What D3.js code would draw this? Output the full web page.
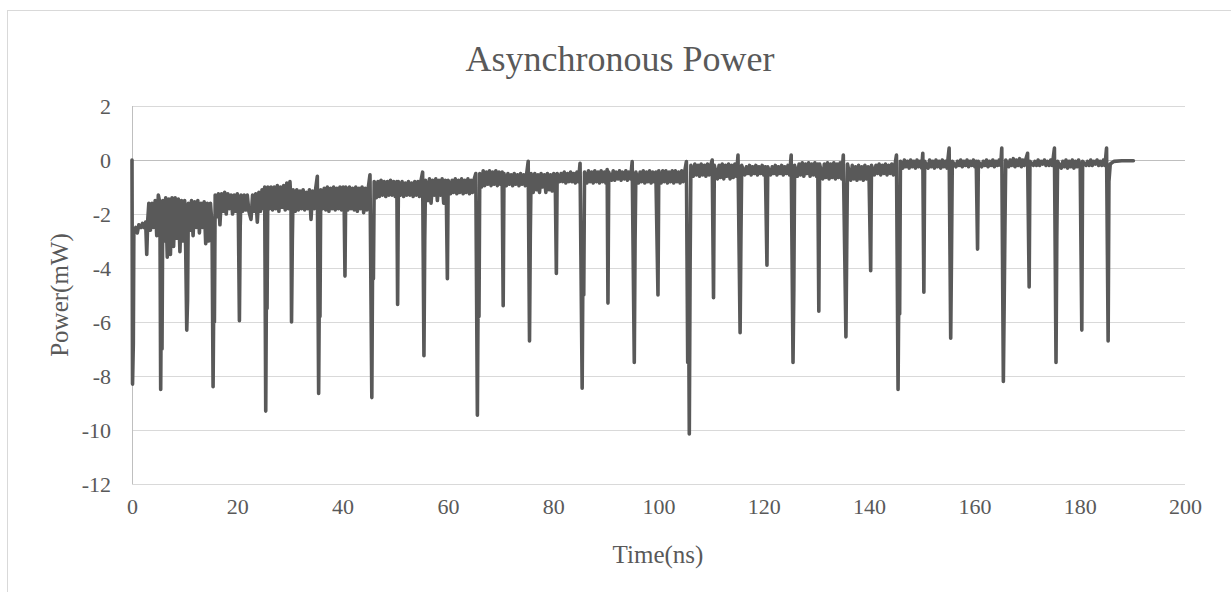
<!DOCTYPE html>
<html>
<head>
<meta charset="utf-8">
<script src="https://cdnjs.cloudflare.com/ajax/libs/d3/7.8.5/d3.min.js"></script>
<style>
  body { margin: 0; background: #fff; }
  text { font-family: "Liberation Serif", "Times New Roman", serif; fill: #595959; }
</style>
</head>
<body>
<div id="Chart"></div>
<script>
var w = 1231;
var h = 592;

var title = "Asynchronous Power";
var xLabel = "Time(ns)";
var yLabel = "Power(mW)";
var xTicks = [0, 20, 40, 60, 80, 100, 120, 140, 160, 180, 200];
var yTicks = [2, 0, -2, -4, -6, -8, -10, -12];

// [time ns, power mW]
var seg0to50 = [
  [0,0],[0.1,-8.3],[0.25,-6.8],[0.35,-2.6],[0.7,-2.5],[1.0,-2.7],[1.3,-2.4],[1.7,-2.5],[2.0,-2.35],[2.3,-2.5],[2.6,-2.3],[2.8,-3.5],[3.0,-2.2],[3.2,-1.6],[3.5,-2.6],[3.8,-1.6],[4.1,-2.5],[4.4,-1.5],[4.7,-2.8],[5.0,-1.3],[5.3,-1.6],
  [5.45,-8.5],[5.6,-3.8],[5.7,-7.0],[5.85,-1.5],
  [6.1,-3.0],[6.4,-1.4],[6.7,-3.6],[7.0,-1.45],[7.3,-3.5],[7.6,-1.4],[7.9,-3.2],[8.2,-1.4],[8.5,-2.9],[8.8,-1.45],[9.1,-3.4],[9.4,-1.5],[9.7,-3.0],[10.0,-1.5],[10.2,-3.3],
  [10.4,-6.3],[10.55,-5.2],[10.7,-1.6],
  [11.0,-2.6],[11.3,-1.5],[11.6,-2.8],[11.9,-1.55],[12.2,-2.5],[12.5,-1.5],[12.8,-2.7],[13.1,-1.6],[13.4,-2.5],[13.7,-1.55],[14.0,-3.1],[14.3,-1.6],[14.6,-3.0],[14.9,-1.6],[15.2,-2.4],
  [15.4,-8.4],[15.55,-4.5],[15.65,-6.0],[15.8,-1.3],
  [16.1,-2.1],[16.4,-1.25],[16.7,-2.4],[17.0,-1.25],[17.3,-1.9],[17.6,-1.2],[17.9,-2.0],[18.2,-1.25],[18.5,-1.8],[18.8,-1.3],[19.1,-2.0],[19.4,-1.3],[19.7,-1.9],[20.0,-1.25],[20.2,-2.0],
  [20.4,-5.95],[20.55,-2.5],[20.7,-1.3],
  [21.0,-1.9],[21.3,-1.3],[21.6,-1.85],[21.9,-1.3],[22.2,-1.9],[22.6,-2.2],[22.9,-1.3],[23.2,-1.9],[23.5,-1.25],[23.8,-2.3],[24.1,-1.2],[24.4,-1.9],[24.7,-1.1],[25.0,-1.8],[25.2,-1.0],
  [25.4,-9.3],[25.55,-4.0],[25.65,-5.5],[25.8,-1.0],
  [26.1,-1.8],[26.4,-1.0],[26.7,-1.85],[27.0,-1.0],[27.3,-1.8],[27.6,-0.95],[27.9,-1.9],[28.2,-1.0],[28.5,-1.75],[28.8,-0.95],[29.1,-1.85],[29.4,-0.85],[29.7,-1.8],[30.0,-0.8],[30.2,-1.6],
  [30.3,-6.0],[30.45,-3.0],[30.6,-1.1],
  [31.0,-1.9],[31.3,-1.1],[31.6,-1.85],[31.9,-1.15],[32.2,-1.8],[32.5,-1.1],[32.8,-1.85],[33.1,-1.2],[33.4,-1.8],[33.7,-1.1],[34.0,-2.2],[34.3,-1.15],[34.6,-1.8],[34.9,-1.05],[35.2,-0.6],
  [35.45,-8.65],[35.6,-4.2],[35.7,-5.8],[35.85,-1.1],
  [36.2,-1.8],[36.5,-1.05],[36.8,-1.85],[37.1,-1.0],[37.4,-1.9],[37.7,-1.05],[38.0,-1.8],[38.3,-1.0],[38.6,-1.85],[38.9,-1.05],[39.2,-1.8],[39.5,-1.0],[39.8,-1.85],[40.1,-1.0],[40.3,-1.7],
  [40.45,-4.3],[40.6,-1.0],
  [41.0,-1.85],[41.3,-1.0],[41.6,-1.8],[41.9,-1.05],[42.2,-1.85],[42.5,-1.0],[42.8,-1.9],[43.1,-1.05],[43.4,-1.8],[43.7,-1.0],[44.0,-1.95],[44.3,-1.05],[44.6,-1.85],[44.9,-1.0],[45.2,-0.55],
  [45.55,-8.8],[45.7,-3.5],[45.85,-4.4],[46.0,-0.8],
  [46.4,-1.4],[46.7,-0.8],[47.0,-1.35],[47.3,-0.75],[47.6,-1.3],[47.9,-0.8],[48.2,-1.35],[48.5,-0.8],[48.8,-1.3],[49.1,-0.75],[49.4,-1.3],[49.7,-0.8],[50.0,-1.35],[50.3,-0.8],
  [50.45,-5.35],[50.6,-0.8]
];

var seg50to100 = [
  [51.0,-1.3],[51.3,-0.8],[51.6,-1.35],[51.9,-0.85],[52.2,-1.3],[52.5,-0.8],[52.8,-1.3],[53.1,-0.85],[53.4,-1.35],[53.7,-0.8],[54.0,-1.3],[54.3,-0.8],[54.6,-1.35],[54.9,-0.75],[55.2,-0.45],
  [55.45,-7.25],[55.6,-3.0],[55.75,-0.75],
  [56.2,-1.5],[56.5,-0.7],[56.8,-1.6],[57.1,-0.75],[57.4,-1.3],[57.7,-0.7],[58.0,-1.5],[58.3,-0.75],[58.6,-1.3],[58.9,-0.7],[59.2,-1.6],[59.5,-0.75],[59.7,-1.3],
  [59.9,-4.4],[60.05,-0.75],
  [60.5,-1.25],[60.8,-0.75],[61.1,-1.2],[61.4,-0.7],[61.7,-1.25],[62.0,-0.75],[62.3,-1.2],[62.6,-0.7],[62.9,-1.25],[63.2,-0.75],[63.5,-1.2],[63.8,-0.7],[64.1,-1.25],[64.4,-0.75],[64.7,-1.2],[65.0,-0.7],[65.3,-0.5],
  [65.6,-9.45],[65.75,-4.5],[65.9,-5.8],[66.05,-0.5],
  [66.4,-1.0],[66.7,-0.4],[67.0,-0.95],[67.3,-0.45],[67.6,-0.9],[67.9,-0.4],[68.2,-0.95],[68.5,-0.45],[68.8,-0.9],[69.1,-0.4],[69.4,-0.95],[69.7,-0.45],[70.0,-0.9],[70.3,-0.45],
  [70.5,-5.4],[70.65,-0.5],
  [71.1,-0.95],[71.4,-0.5],[71.7,-0.9],[72.0,-0.55],[72.3,-0.95],[72.6,-0.5],[72.9,-0.9],[73.2,-0.55],[73.5,-0.95],[73.8,-0.5],[74.1,-0.9],[74.4,-0.55],[74.7,-0.95],[75.0,-0.45],[75.25,-0.05],
  [75.5,-6.7],[75.65,-2.8],[75.8,-0.5],
  [76.2,-1.2],[76.5,-0.5],[76.8,-1.1],[77.1,-0.55],[77.4,-1.2],[77.7,-0.5],[78.0,-1.0],[78.3,-0.55],[78.6,-1.2],[78.9,-0.5],[79.2,-1.1],[79.5,-0.55],[79.8,-1.15],[80.1,-0.5],[80.4,-0.9],
  [80.6,-4.2],[80.75,-0.5],
  [81.2,-0.8],[81.5,-0.5],[81.8,-0.8],[82.1,-0.45],[82.4,-0.85],[82.7,-0.5],[83.0,-0.8],[83.3,-0.45],[83.6,-0.8],[83.9,-0.5],[84.2,-0.85],[84.5,-0.45],[84.8,-0.8],[85.1,-0.12],
  [85.5,-8.45],[85.65,-3.8],[85.8,-5.0],[85.95,-0.45],
  [86.4,-0.85],[86.7,-0.4],[87.0,-0.8],[87.3,-0.45],[87.6,-0.85],[87.9,-0.4],[88.2,-0.8],[88.5,-0.45],[88.8,-0.85],[89.1,-0.4],[89.4,-0.8],[89.7,-0.45],[90.0,-0.85],[90.25,-0.35],
  [90.4,-5.3],[90.55,-0.45],
  [91.1,-0.75],[91.4,-0.4],[91.7,-0.75],[92.0,-0.45],[92.3,-0.7],[92.6,-0.4],[92.9,-0.75],[93.2,-0.45],[93.5,-0.7],[93.8,-0.4],[94.1,-0.75],[94.4,-0.45],[94.7,-0.7],[95.0,-0.06],
  [95.4,-7.5],[95.55,-3.0],[95.7,-0.45],
  [96.2,-0.85],[96.5,-0.45],[96.8,-0.8],[97.1,-0.4],[97.4,-0.85],[97.7,-0.45],[98.0,-0.8],[98.3,-0.4],[98.6,-0.85],[98.9,-0.45],[99.2,-0.8],[99.5,-0.45],
  [99.9,-5.0],[100.05,-0.4]
];

var seg100to150 = [
  [100.5,-0.85],[100.8,-0.4],[101.1,-0.8],[101.4,-0.4],[101.7,-0.85],[102.0,-0.45],[102.3,-0.8],[102.6,-0.4],[102.9,-0.85],[103.2,-0.4],[103.5,-0.8],[103.8,-0.45],[104.1,-0.85],[104.4,-0.4],[104.7,-0.8],[105.0,-0.4],[105.3,-0.06],
  [105.55,-7.5],[105.7,-4.5],[105.85,-10.15],[106.0,-4.0],[106.15,-0.2],
  [106.6,-0.6],[106.9,-0.15],[107.2,-0.55],[107.5,-0.2],[107.8,-0.6],[108.1,-0.15],[108.4,-0.55],[108.7,-0.2],[109.0,-0.6],[109.3,-0.15],[109.6,-0.55],[109.9,-0.2],[110.2,0.0],
  [110.45,-5.1],[110.6,-0.2],
  [111.2,-0.7],[111.5,-0.2],[111.8,-0.65],[112.1,-0.15],[112.4,-0.7],[112.7,-0.2],[113.0,-0.6],[113.3,-0.15],[113.6,-0.7],[113.9,-0.2],[114.2,-0.65],[114.5,-0.15],[114.8,-0.6],[115.1,0.18],
  [115.5,-6.4],[115.65,-3.0],[115.8,-0.2],
  [116.4,-0.55],[116.7,-0.25],[117.0,-0.5],[117.3,-0.2],[117.6,-0.55],[117.9,-0.25],[118.2,-0.5],[118.5,-0.2],[118.8,-0.55],[119.1,-0.25],[119.4,-0.5],[119.7,-0.2],[120.0,-0.55],[120.3,-0.25],
  [120.6,-3.9],[120.75,-0.25],
  [121.3,-0.55],[121.6,-0.25],[121.9,-0.5],[122.2,-0.2],[122.5,-0.55],[122.8,-0.25],[123.1,-0.5],[123.4,-0.2],[123.7,-0.55],[124.0,-0.25],[124.3,-0.5],[124.6,-0.2],[124.9,-0.55],[125.2,0.18],
  [125.55,-7.5],[125.7,-4.8],[125.85,-0.2],
  [126.4,-0.6],[126.7,-0.15],[127.0,-0.55],[127.3,-0.1],[127.6,-0.6],[127.9,-0.15],[128.2,-0.5],[128.5,-0.1],[128.8,-0.6],[129.1,-0.15],[129.4,-0.55],[129.7,-0.1],[130.0,-0.6],[130.25,-0.15],
  [130.45,-5.6],[130.6,-0.15],
  [131.2,-0.7],[131.5,-0.15],[131.8,-0.65],[132.1,-0.1],[132.4,-0.7],[132.7,-0.15],[133.0,-0.65],[133.3,-0.1],[133.6,-0.7],[133.9,-0.15],[134.2,-0.65],[134.5,-0.1],[134.8,-0.7],[135.1,0.18],
  [135.6,-6.55],[135.75,-3.2],[135.9,-0.15],
  [136.5,-0.75],[136.8,-0.2],[137.1,-0.7],[137.4,-0.25],[137.7,-0.75],[138.0,-0.2],[138.3,-0.7],[138.6,-0.25],[138.9,-0.75],[139.2,-0.2],[139.5,-0.7],[139.8,-0.25],[140.0,-0.7],
  [140.3,-4.1],[140.45,-0.2],
  [141.0,-0.55],[141.3,-0.2],[141.6,-0.5],[141.9,-0.15],[142.2,-0.55],[142.5,-0.2],[142.8,-0.5],[143.1,-0.15],[143.4,-0.55],[143.7,-0.2],[144.0,-0.5],[144.3,-0.15],[144.6,-0.55],[144.9,-0.2],[145.2,0.18],
  [145.5,-8.5],[145.65,-4.5],[145.8,-5.7],[145.95,-0.05],
  [146.4,-0.3],[146.7,0.0],[147.0,-0.25],[147.3,-0.05],[147.6,-0.3],[147.9,0.0],[148.2,-0.25],[148.5,-0.05],[148.8,-0.3],[149.1,0.0],[149.4,-0.25],[149.7,-0.05],[150.0,-0.3],[150.2,0.25]
];

var seg150to190 = [
  [150.4,-4.9],[150.55,-0.05],
  [151.2,-0.3],[151.5,0.0],[151.8,-0.25],[152.1,-0.05],[152.4,-0.3],[152.7,0.0],[153.0,-0.25],[153.3,-0.05],[153.6,-0.3],[153.9,0.0],[154.2,-0.25],[154.5,-0.05],[154.8,-0.3],[155.2,0.44],
  [155.5,-6.6],[155.65,-3.5],[155.8,-0.05],
  [156.5,-0.25],[156.8,-0.05],[157.1,-0.2],[157.4,0.0],[157.7,-0.25],[158.0,-0.05],[158.3,-0.2],[158.6,0.0],[158.9,-0.25],[159.2,-0.05],[159.5,-0.2],[159.8,0.0],[160.1,-0.25],[160.35,-0.05],
  [160.6,-3.3],[160.75,-0.05],
  [161.4,-0.25],[161.7,-0.05],[162.0,-0.2],[162.3,0.0],[162.6,-0.25],[162.9,-0.05],[163.2,-0.2],[163.5,0.0],[163.8,-0.25],[164.1,-0.05],[164.4,-0.2],[164.7,0.0],[165.0,-0.2],[165.2,0.44],
  [165.5,-8.2],[165.65,-5.4],[165.8,-2.5],[165.95,0.0],
  [166.5,-0.25],[166.8,0.0],[167.1,-0.2],[167.4,0.05],[167.7,-0.25],[168.0,0.0],[168.3,-0.2],[168.6,0.05],[168.9,-0.25],[169.2,0.0],[169.5,-0.2],[169.8,0.05],[170.1,0.25],
  [170.4,-4.7],[170.55,-0.05],
  [171.2,-0.2],[171.5,-0.05],[171.8,-0.2],[172.1,0.0],[172.4,-0.2],[172.7,-0.05],[173.0,-0.15],[173.3,0.0],[173.6,-0.2],[173.9,-0.05],[174.2,-0.2],[174.5,0.0],[174.8,-0.2],[175.2,0.44],
  [175.5,-7.5],[175.65,-2.85],[175.8,-0.05],
  [176.5,-0.3],[176.8,-0.05],[177.1,-0.25],[177.4,0.0],[177.7,-0.3],[178.0,-0.05],[178.3,-0.25],[178.6,0.0],[178.9,-0.3],[179.2,-0.05],[179.5,-0.25],[179.8,0.0],[180.1,-0.3],
  [180.4,-6.3],[180.55,-0.05],
  [181.2,-0.2],[181.5,-0.05],[181.8,-0.2],[182.1,0.0],[182.4,-0.2],[182.7,-0.05],[183.0,-0.15],[183.3,0.0],[183.6,-0.2],[183.9,-0.05],[184.2,-0.2],[184.5,0.0],[184.8,-0.2],[185.1,0.44],
  [185.4,-6.7],[185.55,-0.8],[185.8,-0.15],[186.5,-0.05],[188.0,-0.03],[190.2,-0.03]
];

var power = seg0to50.concat(seg50to100, seg100to150, seg150to190);

var plot = { left: 132, right: 1185, top: 106, bottom: 484 };

var svg = d3.select("#Chart").append("svg")
    .attr("width", w)
    .attr("height", h)

svg.append("rect")
    .attr("x", 7.5).attr("y", 10.5)
    .attr("width", w).attr("height", h)
    .attr("fill", "#fff")
    .attr("stroke", "#d9d9d9")

var xScale = d3.scaleLinear().domain([0, 200]).range([plot.left, plot.right]);
var yScale = d3.scaleLinear().domain([-12, 2]).range([plot.bottom, plot.top]);

// gridlines
svg.append("g")
    .selectAll("line")
    .data(yTicks.filter(function(d){ return d != 0; }))
    .enter()
    .append("line")
    .attr("x1", plot.left).attr("x2", plot.right)
    .attr("y1", function(d){ return Math.round(yScale(d)) + 0.5; })
    .attr("y2", function(d){ return Math.round(yScale(d)) + 0.5; })
    .attr("stroke", "#d9d9d9")

// y axis line and zero line
svg.append("line")
    .attr("x1", plot.left + 0.5).attr("x2", plot.left + 0.5)
    .attr("y1", plot.top).attr("y2", plot.bottom)
    .attr("stroke", "#bfbfbf")
svg.append("line")
    .attr("x1", plot.left).attr("x2", plot.right)
    .attr("y1", Math.round(yScale(0)) + 0.5).attr("y2", Math.round(yScale(0)) + 0.5)
    .attr("stroke", "#bfbfbf")

var yAxis = d3.axisLeft(yScale).tickValues(yTicks).tickSize(0).tickPadding(0)
    .tickFormat(function(d){ return String(d); });
svg.append("g")
    .attr("transform", "translate(" + (plot.left - 21) + ",0)")
    .call(yAxis)
    .call(function(g){ g.select(".domain").remove(); })
    .selectAll("text")
    .attr("font-size", 22)
    .attr("fill", "#595959")

var xAxis = d3.axisBottom(xScale).tickValues(xTicks).tickSize(0).tickPadding(0)
    .tickFormat(function(d){ return String(d); });
svg.append("g")
    .attr("transform", "translate(0," + (plot.bottom + 14) + ")")
    .call(xAxis)
    .call(function(g){ g.select(".domain").remove(); })
    .selectAll("text")
    .attr("font-size", 22)
    .attr("fill", "#595959")

var line = d3.line()
    .x(function(d){ return xScale(d[0]); })
    .y(function(d){ return yScale(d[1]); });

svg.append("path")
    .datum(power)
    .attr("d", line)
    .attr("fill", "none")
    .attr("stroke", "#595959")
    .attr("stroke-width", 3.6)
    .attr("stroke-linejoin", "round")
    .attr("stroke-linecap", "round")

svg.append("text")
    .text(title)
    .attr("x", 620).attr("y", 71)
    .attr("text-anchor", "middle")
    .attr("font-size", 36)

svg.append("text")
    .text(xLabel)
    .attr("x", 658).attr("y", 563)
    .attr("text-anchor", "middle")
    .attr("font-size", 25)

svg.append("text")
    .text(yLabel)
    .attr("transform", "translate(68,295) rotate(-90)")
    .attr("text-anchor", "middle")
    .attr("font-size", 25)
</script>
</body>
</html>
